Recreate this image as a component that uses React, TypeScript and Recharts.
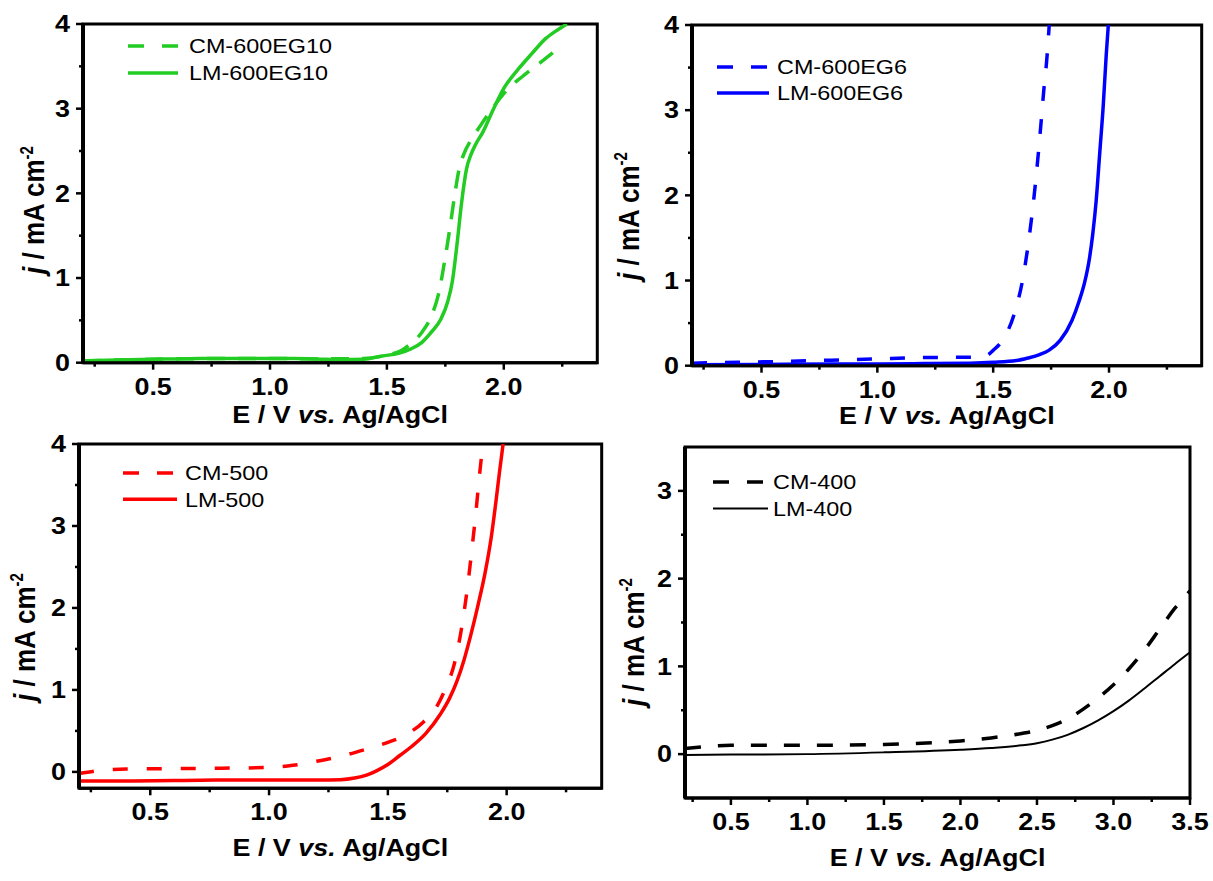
import React from 'react';
import { LineChart, Line, XAxis, YAxis, ReferenceArea, Legend } from 'recharts';

const FONT = '"Liberation Sans", Arial, Helvetica, sans-serif';
// the source figure is stretched sideways, so text is widened to match
const SX = 1.17;

// panel a: CM/LM-600EG10
const cm600eg10E = [0.2, 0.4, 0.6, 0.8, 1.0, 1.2, 1.4, 1.5, 1.56, 1.6, 1.65, 1.69, 1.72, 1.75, 1.77, 1.79, 1.81, 1.83, 1.86, 1.9, 1.95, 2.02, 2.08, 2.14, 2.21];
const cm600eg10J = [0.02, 0.035, 0.045, 0.05, 0.05, 0.045, 0.05, 0.09, 0.14, 0.22, 0.36, 0.55, 0.8, 1.25, 1.6, 1.98, 2.3, 2.47, 2.63, 2.8, 3.0, 3.24, 3.38, 3.51, 3.66];
const lm600eg10E = [0.2, 0.3, 0.4, 0.5, 0.6, 0.7, 0.8, 0.9, 1.0, 1.1, 1.2, 1.3, 1.4, 1.48, 1.55, 1.6, 1.65, 1.69, 1.73, 1.76, 1.78, 1.8, 1.82, 1.84, 1.86, 1.88, 1.91, 1.95, 2.0, 2.06, 2.12, 2.18, 2.23, 2.27];
const lm600eg10J = [0.02, 0.03, 0.035, 0.04, 0.045, 0.05, 0.05, 0.05, 0.05, 0.05, 0.045, 0.035, 0.04, 0.08, 0.11, 0.16, 0.24, 0.36, 0.51, 0.72, 0.96, 1.4, 1.9, 2.28, 2.46, 2.58, 2.72, 2.96, 3.24, 3.46, 3.65, 3.83, 3.93, 4.0];

// panel b: CM/LM-600EG6
const cm600eg6E = [0.2, 0.4, 0.6, 0.8, 1.0, 1.2, 1.4, 1.47, 1.5, 1.55, 1.59, 1.63, 1.655, 1.675, 1.69, 1.705, 1.72, 1.73, 1.742];
const cm600eg6J = [0.03, 0.04, 0.05, 0.065, 0.08, 0.095, 0.1, 0.12, 0.18, 0.34, 0.6, 1.05, 1.5, 1.95, 2.35, 2.8, 3.28, 3.55, 4.0];
const lm600eg6E = [0.2, 0.5, 0.8, 1.0, 1.2, 1.4, 1.5, 1.6, 1.65, 1.7, 1.74, 1.79, 1.84, 1.87, 1.895, 1.915, 1.93, 1.945, 1.96, 1.975, 1.988, 1.997];
const lm600eg6J = [0.01, 0.015, 0.02, 0.02, 0.025, 0.03, 0.04, 0.06, 0.09, 0.13, 0.18, 0.3, 0.53, 0.75, 0.98, 1.25, 1.55, 1.95, 2.5, 3.05, 3.65, 4.0];

// panel c: CM/LM-500
const cm500E = [0.2, 0.3, 0.4, 0.6, 0.8, 1.0, 1.1, 1.2, 1.3, 1.4, 1.5, 1.58, 1.65, 1.7, 1.74, 1.78, 1.81, 1.835, 1.855, 1.87, 1.885, 1.9];
const cm500J = [-0.02, 0.02, 0.035, 0.04, 0.045, 0.055, 0.08, 0.13, 0.19, 0.27, 0.36, 0.46, 0.61, 0.77, 1.0, 1.32, 1.75, 2.25, 2.75, 3.15, 3.6, 4.0];
const lm500E = [0.2, 0.4, 0.6, 0.8, 1.0, 1.2, 1.3, 1.36, 1.41, 1.45, 1.5, 1.55, 1.6, 1.66, 1.72, 1.76, 1.79, 1.82, 1.85, 1.88, 1.91, 1.935, 1.955, 1.97, 1.985];
const lm500J = [-0.11, -0.11, -0.105, -0.1, -0.1, -0.1, -0.095, -0.075, -0.04, 0.01, 0.09, 0.2, 0.31, 0.47, 0.7, 0.9, 1.1, 1.36, 1.68, 2.04, 2.44, 2.86, 3.3, 3.66, 4.0];

// panel d: CM/LM-400
const cm400E = [0.2, 0.5, 1.0, 1.5, 2.0, 2.2, 2.4, 2.5, 2.6, 2.7, 2.8, 2.9, 3.0, 3.1, 3.2, 3.3, 3.4, 3.5];
const cm400J = [0.065, 0.1, 0.1, 0.11, 0.15, 0.185, 0.235, 0.27, 0.325, 0.4, 0.51, 0.64, 0.79, 0.97, 1.18, 1.42, 1.66, 1.86];
const lm400E = [0.2, 0.5, 1.0, 1.5, 2.0, 2.2, 2.4, 2.5, 2.6, 2.7, 2.8, 2.9, 3.0, 3.1, 3.2, 3.3, 3.4, 3.5];
const lm400J = [-0.01, -0.005, 0.0, 0.02, 0.05, 0.07, 0.1, 0.125, 0.165, 0.22, 0.295, 0.385, 0.49, 0.61, 0.745, 0.885, 1.025, 1.16];

// tick values
const xMajorA = [0.5, 1.0, 1.5, 2.0];
const xMinorA = [0.25, 0.75, 1.25, 1.75, 2.25];
const xMajorD = [0.5, 1.0, 1.5, 2.0, 2.5, 3.0, 3.5];
const xMinorD = [0.25, 0.75, 1.25, 1.75, 2.25, 2.75, 3.25];
const yMajor4 = [0, 1, 2, 3, 4];
const yMinor4 = [0.5, 1.5, 2.5, 3.5];
const yMajorD = [0, 1, 2, 3];
const yMinorD = [0.5, 1.5, 2.5];

const pts = (e: number[], j: number[]) => e.map((v, i) => ({ e: v, j: j[i] }));

const GREEN = '#22cc22';
const BLUE = '#0000ff';
const RED = '#ff0000';

const panels = [
  {
    id: 'a', plotX: 82.7, plotY: 24, plotW: 514.3, plotH: 338.7,
    xDomain: [0.2, 2.4], yDomain: [0, 4], xMajor: xMajorA, xMinor: xMinorA, yMajor: yMajor4, yMinor: yMinor4,
    titleDy: 60, yLabel: [33, 210], legend: [128, 34], legGap: 27, legLine: 50, legText: 61,
    series: [
      { name: 'CM-600EG10', data: pts(cm600eg10E, cm600eg10J), color: GREEN, width: 3.5, dash: '18 13' },
      { name: 'LM-600EG10', data: pts(lm600eg10E, lm600eg10J), color: GREEN, width: 3.5 },
    ],
  },
  {
    id: 'b', plotX: 692, plotY: 25, plotW: 509.7, plotH: 340.7,
    xDomain: [0.2, 2.4], yDomain: [0, 4], xMajor: xMajorA, xMinor: xMinorA, yMajor: yMajor4, yMinor: yMinor4,
    titleDy: 58, yLabel: [628, 216], legend: [716.5, 54.7], legGap: 26, legLine: 52, legText: 60,
    series: [
      { name: 'CM-600EG6', data: pts(cm600eg6E, cm600eg6J), color: BLUE, width: 3.5, dash: '15 18' },
      { name: 'LM-600EG6', data: pts(lm600eg6E, lm600eg6J), color: BLUE, width: 3.5 },
    ],
  },
  {
    id: 'c', plotX: 79.3, plotY: 444, plotW: 522.7, plotH: 344.3,
    xDomain: [0.2, 2.4], yDomain: [-0.2, 4], xMajor: xMajorA, xMinor: xMinorA, yMajor: yMajor4, yMinor: yMinor4,
    titleDy: 68, yLabel: [24, 637], legend: [122.5, 460.7], legGap: 26.3, legLine: 54, legText: 62,
    series: [
      { name: 'CM-500', data: pts(cm500E, cm500J), color: RED, width: 3.5, dash: '15 19' },
      { name: 'LM-500', data: pts(lm500E, lm500J), color: RED, width: 3.5 },
    ],
  },
  {
    id: 'd', plotX: 685, plotY: 447, plotW: 505, plotH: 351,
    xDomain: [0.2, 3.5], yDomain: [-0.5, 3.5], xMajor: xMajorD, xMinor: xMinorD, yMajor: yMajorD, yMinor: yMinorD,
    titleDy: 68, yLabel: [633, 642], legend: [713, 469.7], legGap: 26.6, legLine: 55, legText: 60,
    series: [
      { name: 'CM-400', data: pts(cm400E, cm400J), color: '#000', width: 3.5, dash: '16 17' },
      { name: 'LM-400', data: pts(lm400E, lm400J), color: '#000', width: 2 },
    ],
  },
];

const PAD_L = 80, PAD_T = 20, PAD_R = 30, PAD_B = 80;

function Panel({ cfg }: { cfg: any }) {
  const left = cfg.plotX - PAD_L;
  const top = cfg.plotY - PAD_T;
  const width = cfg.plotW + PAD_L + PAD_R;
  const height = cfg.plotH + PAD_T + PAD_B;

  const xTick = ({ x, y, payload }: any) => {
    const major = cfg.xMajor.includes(payload.value);
    return (
      <g>
        <line x1={x} x2={x} y1={y} y2={y + (major ? 7 : 4)} stroke="#000" strokeWidth={2.5} />
        {major && (
          <text transform={`translate(${x},${y + 32}) scale(${SX},1)`} textAnchor="middle"
            fontFamily={FONT} fontWeight="bold" fontSize={23} fill="#000">
            {payload.value.toFixed(1)}
          </text>
        )}
      </g>
    );
  };

  const yTick = ({ x, y, payload }: any) => {
    const major = cfg.yMajor.includes(payload.value);
    return (
      <g>
        <line x1={x - (major ? 7 : 4)} x2={x} y1={y} y2={y} stroke="#000" strokeWidth={2.5} />
        {major && (
          <text transform={`translate(${x - 13},${y}) scale(${SX},1)`} textAnchor="end" dy="0.36em"
            fontFamily={FONT} fontWeight="bold" fontSize={23} fill="#000">
            {String(payload.value)}
          </text>
        )}
      </g>
    );
  };

  const xTitle = () => (
    <text transform={`translate(${PAD_L + cfg.plotW / 2},${PAD_T + cfg.plotH + cfg.titleDy}) scale(${SX},1)`}
      textAnchor="middle" fontFamily={FONT} fontWeight="bold" fontSize={23} fill="#000">
      E / V <tspan fontStyle="italic">vs.</tspan> Ag/AgCl
    </text>
  );

  const yTitle = () => (
    <text transform={`translate(${cfg.yLabel[0] - left},${cfg.yLabel[1] - top}) rotate(-90) scale(1,${SX})`}
      textAnchor="middle" dy="0.36em" fontFamily={FONT} fontWeight="bold" fontSize={26} fill="#000">
      <tspan fontStyle="italic">j</tspan> / mA cm<tspan dy={-10} fontSize={15}>-2</tspan>
    </text>
  );

  const legendContent = () => (
    <svg width={260} height={70} style={{ display: 'block', overflow: 'visible' }}>
      {cfg.series.map((s: any, i: number) => {
        const cy = 12 + i * cfg.legGap;
        return (
          <g key={s.name}>
            <line x1={0} x2={cfg.legLine} y1={cy} y2={cy} stroke={s.color} strokeWidth={s.width}
              strokeDasharray={s.dash ? '16 18' : undefined} />
            <text transform={`translate(${cfg.legText},${cy}) scale(${SX},1)`} dy="0.36em"
              fontFamily={FONT} fontSize={20} fill="#000">
              {s.name}
            </text>
          </g>
        );
      })}
    </svg>
  );

  return (
    <div style={{ position: 'absolute', left, top, width, height }}>
      <LineChart width={width} height={height} margin={{ top: PAD_T, right: PAD_R, bottom: 0, left: 0 }}>
        <XAxis type="number" dataKey="e" domain={cfg.xDomain} ticks={[...cfg.xMajor, ...cfg.xMinor].sort((a, b) => a - b)}
          interval={0} height={PAD_B} tickSize={0} tickMargin={0} tickLine={false} tick={xTick}
          axisLine={{ stroke: '#000', strokeWidth: 3 }} allowDataOverflow label={{ content: xTitle }} />
        <YAxis type="number" dataKey="j" domain={cfg.yDomain} ticks={[...cfg.yMajor, ...cfg.yMinor].sort((a, b) => a - b)}
          interval={0} width={PAD_L} tickSize={0} tickMargin={0} tickLine={false} tick={yTick}
          axisLine={{ stroke: '#000', strokeWidth: 4 }} allowDataOverflow label={{ content: yTitle }} />
        <ReferenceArea x1={cfg.xDomain[0]} x2={cfg.xDomain[1]} y1={cfg.yDomain[0]} y2={cfg.yDomain[1]}
          fill="none" stroke="#000" strokeWidth={3} ifOverflow="visible" />
        <Legend layout="horizontal" verticalAlign="middle" align="center" content={legendContent}
          wrapperStyle={{ left: cfg.legend[0] - left, top: cfg.legend[1] - top, width: 260, height: 70 }} />
        {cfg.series.map((s: any) => (
          <Line key={s.name} name={s.name} data={s.data} dataKey="j" type="monotone" stroke={s.color}
            strokeWidth={s.width} strokeDasharray={s.dash} dot={false} activeDot={false} isAnimationActive={false} />
        ))}
      </LineChart>
    </div>
  );
}

export default function App() {
  return (
    <div style={{ position: 'absolute', left: 0, top: 0, width: 1213, height: 881, background: '#fff', fontFamily: FONT }}>
      {panels.map((p) => (
        <Panel key={p.id} cfg={p} />
      ))}
    </div>
  );
}
